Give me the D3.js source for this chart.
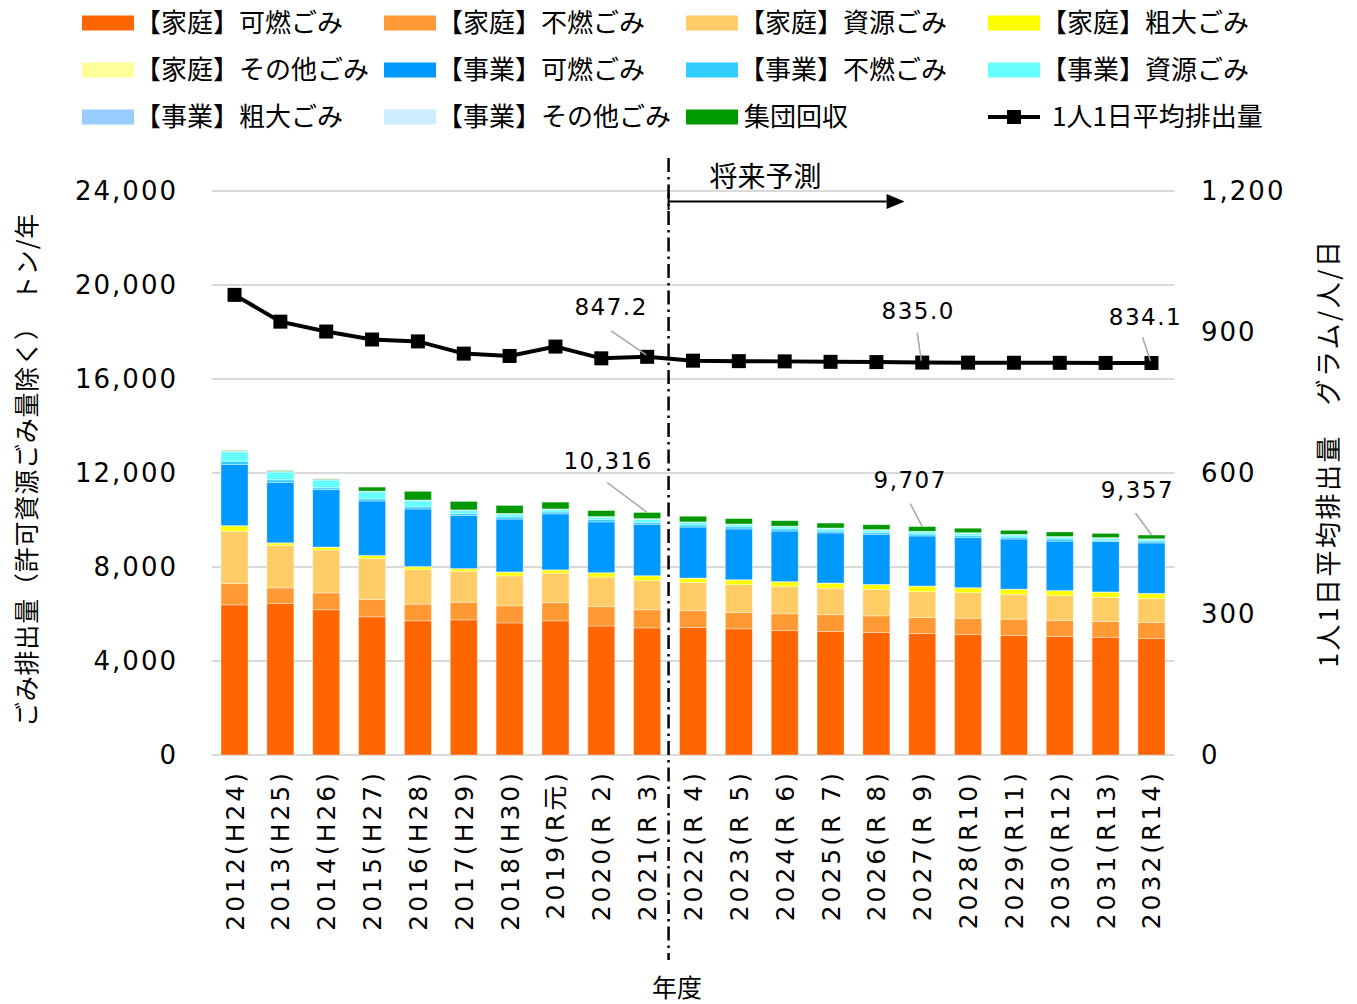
<!DOCTYPE html>
<html><head><meta charset="utf-8">
<script src="https://cdn.jsdelivr.net/npm/d3@7"></script>
<style>
html,body{margin:0;padding:0;background:#fff;}
svg{display:block;}
</style>
</head><body>
<svg id="chart" width="1357" height="1004"></svg>
<script>
// ---------- data ----------
const categories = ["2012(H24)","2013(H25)","2014(H26)","2015(H27)","2016(H28)","2017(H29)","2018(H30)","2019(R元)","2020(R 2)","2021(R 3)","2022(R 4)","2023(R 5)","2024(R 6)","2025(R 7)","2026(R 8)","2027(R 9)","2028(R10)","2029(R11)","2030(R12)","2031(R13)","2032(R14)"];
const seriesNames = ["【家庭】可燃ごみ","【家庭】不燃ごみ","【家庭】資源ごみ","【家庭】粗大ごみ","【家庭】その他ごみ","【事業】可燃ごみ","【事業】不燃ごみ","【事業】資源ごみ","【事業】粗大ごみ","【事業】その他ごみ","集団回収"];
const seriesColors = ["#FF6600","#FF9933","#FFCC66","#FFFF00","#FFFF99","#0099FF","#33CCFF","#66FFFF","#99CCFF","#CCECFF","#009900"];
const homeBurnable    = [6390,6450,6180,5880,5710,5750,5620,5710,5490,5410,5430,5370,5300,5250,5210,5170,5130,5080,5050,5010,4960];
const homeNonBurnable = [900,660,720,730,710,750,730,770,820,770,710,700,710,720,710,680,690,700,680,670,680];
const homeResource    = [2230,1810,1820,1750,1470,1310,1270,1260,1260,1240,1200,1180,1160,1130,1120,1100,1090,1060,1050,1030,1010];
const homeBulky       = [230,100,120,120,120,110,160,130,180,200,180,200,200,210,210,230,200,210,210,220,220];
const homeOther       = [10,10,10,10,10,10,10,10,10,10,10,10,10,10,10,10,10,10,10,10,10];
const bizBurnable     = [2600,2570,2440,2320,2450,2260,2250,2380,2160,2190,2170,2160,2150,2130,2130,2130,2130,2130,2100,2140,2140];
const bizNonBurnable  = [140,110,80,90,90,80,90,80,110,80,90,90,90,80,80,80,80,80,90,60,80];
const bizResource     = [400,330,330,300,260,130,120,100,90,130,100,90,90,100,90,90,100,90,80,80,70];
const bizBulky        = [20,20,20,20,20,20,20,20,20,20,20,20,20,20,20,20,20,20,20,20,20];
const bizOther        = [10,10,10,10,10,10,10,10,10,10,10,10,10,10,10,10,10,10,10,10,10];
const groupCollection = [20,30,20,170,370,360,340,290,250,260,240,230,230,210,210,200,190,170,190,180,160];
const perCapita       = [979,922,901,884,880,854,849,869,844,847.2,839,838,837.5,836.5,836,835.0,834.8,834.6,834.4,834.2,834.1];
const leftTicks  = [0,4000,8000,12000,16000,20000,24000];
const rightTicks = [0,300,600,900,1200];
const lineName = "1人1日平均排出量";
const leftTitle = "ごみ排出量（許可資源ごみ量除く）　トン/年";
const rightTitle = "1人1日平均排出量　グラム/人/日";
const xTitle = "年度";
const forecastLabel = "将来予測";
const forecastStart = "2022(R 4)";
const lineAnnotations = [["2021(R 3)","847.2"],["2027(R 9)","835.0"],["2032(R14)","834.1"]];
const barAnnotations  = [["2021(R 3)","10,316"],["2027(R 9)","9,707"],["2032(R14)","9,357"]];

const seriesValues = [homeBurnable,homeNonBurnable,homeResource,homeBulky,homeOther,bizBurnable,bizNonBurnable,bizResource,bizBulky,bizOther,groupCollection];

// ---------- setup ----------
const svg = d3.select("#chart");
const JP = "'Noto Sans CJK JP','Noto Sans',sans-serif";
const NUM = "'DejaVu Sans','Noto Sans CJK JP',sans-serif";

const plotL = 211.6, plotR = 1174.4, plotT = 191, plotB = 755;
const x = d3.scaleBand().domain(categories).range([plotL, plotR]).paddingInner(0.41).paddingOuter(0.205);
const yL = d3.scaleLinear().domain([0,24000]).range([plotB, plotT]);
const yR = d3.scaleLinear().domain([0,1200]).range([plotB, plotT]);

const table = categories.map((c,i)=>{
  const row = {cat:c};
  seriesNames.forEach((s,j)=>row[s]=seriesValues[j][i]);
  return row;
});
const stacked = d3.stack().keys(seriesNames)(table);
const totals = table.map(r=>d3.sum(seriesNames,s=>r[s]));

// gridlines
svg.append("g").selectAll("line").data(leftTicks).join("line")
  .attr("x1",plotL).attr("x2",plotR)
  .attr("y1",d=>yL(d)).attr("y2",d=>yL(d))
  .attr("stroke","#d9d9d9").attr("stroke-width",2);

// bars
svg.append("g").selectAll("g").data(stacked).join("g")
  .attr("fill",(d,i)=>seriesColors[i])
  .selectAll("rect").data(d=>d).join("rect")
  .attr("x",d=>x(d.data.cat))
  .attr("width",x.bandwidth())
  .attr("y",d=>yL(d[1]))
  .attr("height",d=>Math.max(0,yL(d[0])-yL(d[1])))
  .attr("stroke","#ffffff").attr("stroke-opacity",0.45).attr("stroke-width",0.8);

// left axis labels
svg.append("g").selectAll("text").data(leftTicks).join("text")
  .attr("x",178).attr("y",d=>yL(d)).attr("dy","0.36em")
  .attr("text-anchor","end")
  .style("font-family",NUM).style("font-size","26px").style("letter-spacing","2px")
  .attr("fill","#000")
  .text(d=>d3.format(",")(d));
// right axis labels
svg.append("g").selectAll("text").data(rightTicks).join("text")
  .attr("x",1201).attr("y",d=>yR(d)).attr("dy","0.36em")
  .attr("text-anchor","start")
  .style("font-family",NUM).style("font-size","26px").style("letter-spacing","2px")
  .attr("fill","#000")
  .text(d=>d3.format(",")(d));

// x labels
svg.append("g").selectAll("text").data(categories).join("text")
  .attr("transform",d=>`translate(${x(d)+x.bandwidth()/2},770) rotate(-90)`)
  .attr("dy","0.36em")
  .attr("text-anchor","end")
  .style("font-family",NUM).style("font-size","25px").style("letter-spacing","3px")
  .attr("fill","#000")
  .text(d=>d);

// axis titles
svg.append("text")
  .attr("transform","translate(27,470) rotate(-90)")
  .attr("text-anchor","middle").attr("dy","0.36em")
  .style("font-family",JP).style("font-size","25px").style("letter-spacing","0.8px")
  .text(leftTitle);
svg.append("text")
  .attr("transform","translate(1329,453) rotate(-90)")
  .attr("text-anchor","middle").attr("dy","0.36em")
  .style("font-family",JP).style("font-size","26px").style("letter-spacing","2.5px")
  .text(rightTitle);
svg.append("text")
  .attr("x",677).attr("y",988).attr("dy","0.36em")
  .attr("text-anchor","middle")
  .style("font-family",JP).style("font-size","25px")
  .text(xTitle);

// forecast divider
const divX = x(forecastStart) - x.step()*x.paddingInner()/2 - 1.5;
svg.append("line")
  .attr("x1",divX).attr("x2",divX).attr("y1",158).attr("y2",960)
  .attr("stroke","#000").attr("stroke-width",2.5)
  .attr("stroke-dasharray","14,5,2.5,5");
// arrow
svg.append("line").attr("x1",divX).attr("x2",divX+218).attr("y1",201.5).attr("y2",201.5)
  .attr("stroke","#000").attr("stroke-width",2);
svg.append("line").attr("x1",divX).attr("x2",divX).attr("y1",193).attr("y2",210)
  .attr("stroke","#000").attr("stroke-width",2);
svg.append("path")
  .attr("d",`M${divX+218},194 L${divX+236},201.5 L${divX+218},209 Z`)
  .attr("fill","#000");
svg.append("text").attr("x",divX+41).attr("y",177).attr("dy","0.36em")
  .style("font-family",JP).style("font-size","28px")
  .text(forecastLabel);

// line
const cx = c=>x(c)+x.bandwidth()/2;
const line = d3.line().x((d,i)=>cx(categories[i])).y(d=>yR(d));
svg.append("path").datum(perCapita).attr("d",line)
  .attr("fill","none").attr("stroke","#000").attr("stroke-width",4);
svg.append("g").selectAll("rect").data(perCapita).join("rect")
  .attr("x",(d,i)=>cx(categories[i])-7).attr("y",d=>yR(d)-7)
  .attr("width",14).attr("height",14).attr("fill","#000");

// line annotations
const lineOffsets = [[-36,-50,-36,-26],[-4,-52,-5,-30],[-6,-46,-9,-26]];
lineAnnotations.forEach(([c,label],k)=>{
  const i = categories.indexOf(c);
  const px = cx(c), py = yR(perCapita[i]);
  const o = lineOffsets[k];
  svg.append("line").attr("x1",px+o[2]).attr("y1",py+o[3]).attr("x2",px-1).attr("y2",py-2)
    .attr("stroke","#a6a6a6").attr("stroke-width",1.5);
  svg.append("text").attr("x",px+o[0]).attr("y",py+o[1]).attr("dy","0.36em")
    .attr("text-anchor","middle")
    .style("font-family",NUM).style("font-size","23px").style("letter-spacing","1.5px")
    .text(label);
});
// bar total annotations
const barOffsets = [[-39,-52,-40,-30],[-12,-47,-12,-23],[-14,-45,-16,-22]];
barAnnotations.forEach(([c,label],k)=>{
  const i = categories.indexOf(c);
  const px = cx(c), py = yL(totals[i]);
  const o = barOffsets[k];
  svg.append("line").attr("x1",px+o[2]).attr("y1",py+o[3]).attr("x2",px).attr("y2",py)
    .attr("stroke","#a6a6a6").attr("stroke-width",1.5);
  svg.append("text").attr("x",px+o[0]).attr("y",py+o[1]).attr("dy","0.36em")
    .attr("text-anchor","middle")
    .style("font-family",NUM).style("font-size","23px").style("letter-spacing","1.5px")
    .text(label);
});

// legend
const legendItems = seriesNames.map((n,i)=>({name:n,color:seriesColors[i],type:"bar"}))
  .concat([{name:lineName,type:"line"}]);
const colX = [82,384,686,988], rowY = [23,70,117];
const lg = svg.append("g").selectAll("g").data(legendItems).join("g")
  .attr("transform",(d,i)=>`translate(${colX[i%4]},${rowY[Math.floor(i/4)]})`);
lg.filter(d=>d.type==="bar").append("rect")
  .attr("x",0).attr("y",-7.5).attr("width",52).attr("height",15)
  .attr("fill",d=>d.color);
const ll = lg.filter(d=>d.type==="line");
ll.append("line").attr("x1",0).attr("x2",52).attr("y1",0).attr("y2",0)
  .attr("stroke","#000").attr("stroke-width",4);
ll.append("rect").attr("x",19).attr("y",-7).attr("width",14).attr("height",14).attr("fill","#000");
lg.append("text").attr("x",d=>d.type==="line"?64:(d.name.startsWith("【")?53:58)).attr("y",0).attr("dy","0.36em")
  .style("font-family",JP).style("font-size","26px")
  .text(d=>d.name);
</script>
</body></html>
